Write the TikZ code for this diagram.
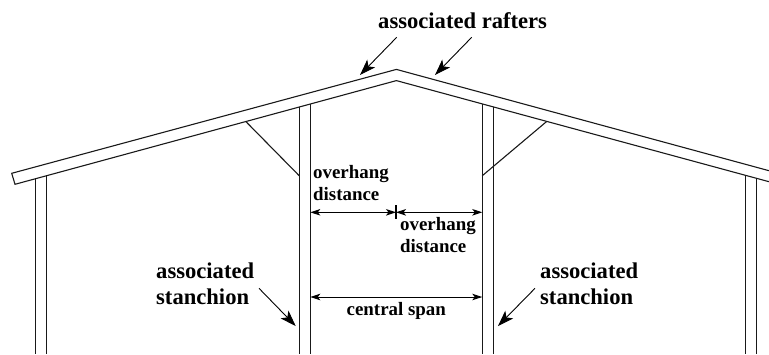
\documentclass[tikz,border=0pt]{standalone}
\usepackage{fontspec}
\setmainfont{Liberation Serif}
\usetikzlibrary{arrows.meta}
\tikzset{
  member/.style={line width=1.1pt,draw=black!90},
  callout/.style={line width=0.9pt,-{Stealth[length=16pt,width=11pt,inset=4pt]}},
  dimline/.style={line width=1pt,{Stealth[length=10pt,width=6.5pt,inset=2.5pt]}-{Stealth[length=10pt,width=6.5pt,inset=2.5pt]}},
  biglabel/.style={inner sep=0pt,anchor=base west,font=\bfseries\fontsize{22.6}{26}\selectfont,align=left},
  smalllabel/.style={inner sep=0pt,anchor=base west,font=\bfseries\fontsize{18.9}{22}\selectfont,align=left}
}
\begin{document}
\begin{tikzpicture}[x=1pt,y=-1pt]
\useasboundingbox (0,0) rectangle (769,354);
% rafters
\coordinate (ltop) at (11.7,173.3);
\coordinate (lbot) at (15,184.3);
\coordinate (atop) at (396.4,69.4);
\coordinate (abot) at (396.4,80.6);
\coordinate (rtop) at (769,170.7);
\coordinate (rbot) at (769,181.7);
\draw[member,line join=miter] (rtop) -- (atop) -- (ltop) -- (lbot) -- (abot) -- (rbot);
% stanchions
\coordinate (s1a) at (35.8,178.9); \coordinate (s1ab) at (35.8,354);
\coordinate (s1b) at (46.6,176.0); \coordinate (s1bb) at (46.6,354);
\coordinate (s2a) at (299.2,107.0); \coordinate (s2ab) at (299.2,354);
\coordinate (s2b) at (310.3,104.0); \coordinate (s2bb) at (310.3,354);
\coordinate (s3a) at (482.3,104.2); \coordinate (s3ab) at (482.3,354);
\coordinate (s3b) at (493.2,107.0); \coordinate (s3bb) at (493.2,354);
\coordinate (s4a) at (745.7,175.3); \coordinate (s4ab) at (745.7,354);
\coordinate (s4b) at (756.7,178.3); \coordinate (s4bb) at (756.7,354);
\draw[member] (s1a) -- (s1ab) (s1b) -- (s1bb) (s2a) -- (s2ab) (s2b) -- (s2bb)
  (s3a) -- (s3ab) (s3b) -- (s3bb) (s4a) -- (s4ab) (s4b) -- (s4bb);
% braces
\coordinate (b1) at (246,121.7); \coordinate (b1e) at (299.2,175.7);
\coordinate (b2) at (546.4,121.7); \coordinate (b2e) at (482.3,175.7);
\draw[member] (b1) -- (b1e) (b2) -- (b2e);
% labels
\node[biglabel] (rafters) at (378,28.7) {associated rafters};
\node[biglabel] (st1) at (156,278.3) {associated};
\node[biglabel] (st1b) at (156,304.3) {stanchion};
\node[biglabel] (st2) at (540,278.3) {associated};
\node[biglabel] (st2b) at (540,304.3) {stanchion};
\node[smalllabel] (oh1) at (313,178) {overhang};
\node[smalllabel] (oh1b) at (313,200) {distance};
\node[smalllabel] (oh2) at (400,230.7) {overhang};
\node[smalllabel] (oh2b) at (400,252.7) {distance};
\node[smalllabel] (span) at (346.5,315) {central span};
% callouts
\coordinate (c1s) at (396.7,37.3); \coordinate (c1e) at (360,75);
\coordinate (c2s) at (471.7,37.3); \coordinate (c2e) at (435,75);
\coordinate (c3s) at (259,288.3); \coordinate (c3e) at (295.7,326);
\coordinate (c4s) at (535,288.3); \coordinate (c4e) at (498,326);
\draw[callout] (c1s) -- (c1e);
\draw[callout] (c2s) -- (c2e);
\draw[callout] (c3s) -- (c3e);
\draw[callout] (c4s) -- (c4e);
% dimensions
\coordinate (d0) at (310.3,212.3); \coordinate (dm) at (396,212.3); \coordinate (d1) at (482.3,212.3);
\coordinate (e0) at (310.3,297); \coordinate (e1) at (482.3,297);
\coordinate (tt) at (396,205); \coordinate (tb) at (396,219.3);
\draw[dimline] (d0) -- (dm);
\draw[dimline] (dm) -- (d1);
\draw[dimline] (e0) -- (e1);
\draw[line width=1.1pt] (tt) -- (tb);
\end{tikzpicture}
\end{document}
